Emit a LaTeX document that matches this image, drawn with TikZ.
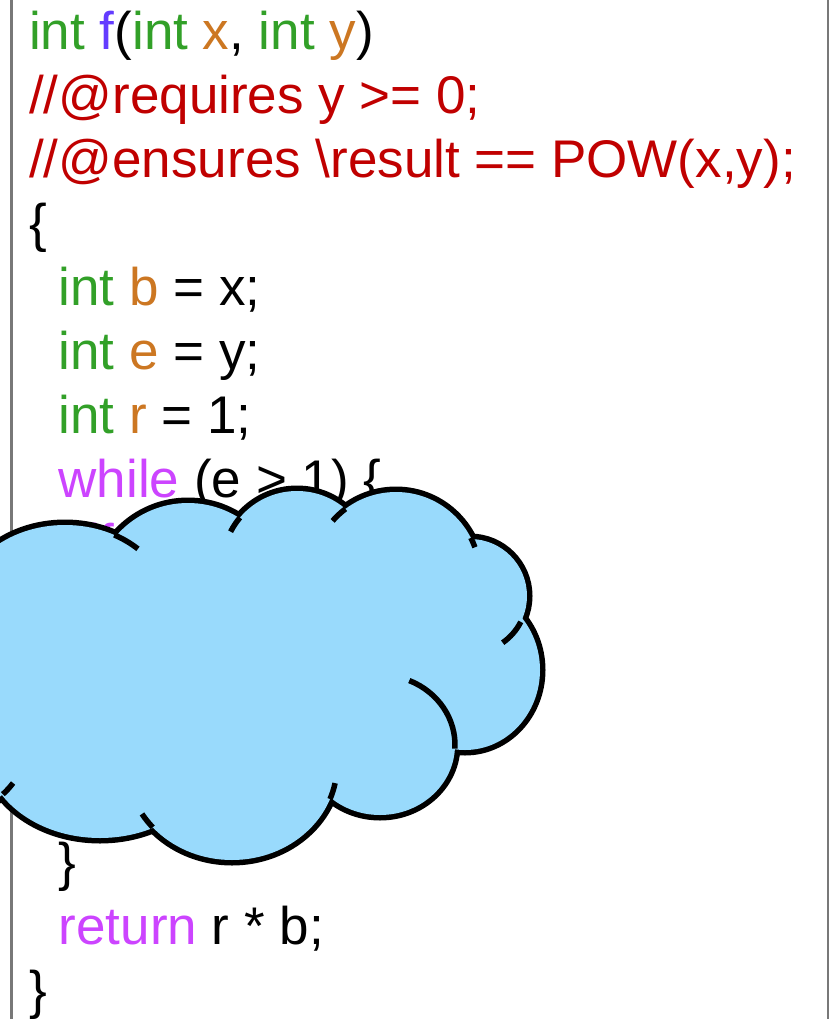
\documentclass[tikz,border=0pt]{standalone}
\usepackage{fontspec}
\setmainfont{Liberation Sans}
\usetikzlibrary{positioning}

\definecolor{typecol}{RGB}{50,160,40}
\definecolor{funcol}{RGB}{100,60,255}
\definecolor{varcol}{RGB}{204,119,34}
\definecolor{speccol}{RGB}{192,0,0}
\definecolor{keycol}{RGB}{204,68,255}
\definecolor{cloudcol}{RGB}{153,218,252}
\definecolor{framecol}{RGB}{120,120,120}

\newcommand{\ctype}[1]{\textcolor{typecol}{#1}}
\newcommand{\cfun}[1]{\textcolor{funcol}{#1}}
\newcommand{\cvar}[1]{\textcolor{varcol}{#1}}
\newcommand{\ckey}[1]{\textcolor{keycol}{#1}}

\begin{document}
\begin{tikzpicture}[x=1pt,y=1pt,node distance=63.9pt,
    code/.style={anchor=base west,inner sep=0pt,font=\fontsize{53}{64}\selectfont},
    spec/.style={code,text=speccol},
    frame/.style={draw=framecol,line width=2.5pt}]

\useasboundingbox (0,0) rectangle (830,-1019);

% code lines
\node[code] (l1) at (29,-50) {\ctype{int} \cfun{f}(\ctype{int} \cvar{x}, \ctype{int} \cvar{y})};
\node[below=of l1.base west,spec] (l2) {//@requires y >= 0;};
\node[below=of l2.base west,spec] (l3) {//@ensures \textbackslash result == POW(x,y);};
\node[below=of l3.base west,code] (l4) {\{};
\node[below=of l4.base west,code,xshift=29.5pt] (l5) {\ctype{int} \cvar{b} = x;};
\node[below=of l5.base west,code] (l6) {\ctype{int} \cvar{e} = y;};
\node[below=of l6.base west,code] (l7) {\ctype{int} \cvar{r} = 1;};
\node[below=of l7.base west,code] (l8) {\ckey{while} (e > 1) \{};
\node[below=of l8.base west,code,xshift=29.5pt] (l9) {\ckey{if}};
\node[below=383.4pt of l8.base west,code] (l13) {\}};
\node[below=of l13.base west,code] (l14) {\ckey{return} r * b;};
\node[below=of l14.base west,code,xshift=-29.5pt] (l15) {\}};

% frame sides
\draw[frame] (11.3,0) -- (11.3,-1019);
\draw[frame] (828,0) -- (828,-1019);

% cloud bumps
\coordinate (b1) at (65,-610);
\coordinate (b2) at (188,-598);
\coordinate (b3) at (297,-565.5);
\coordinate (b4) at (396,-576);
\coordinate (b5) at (470,-596);
\coordinate (b6) at (465,-670);
\coordinate (b7) at (380,-745);
\coordinate (b8) at (232,-765);
\coordinate (b9) at (100,-748);
\coordinate (b10) at (-30,-690);

\begin{scope}
\clip (0,0) rectangle (830,-1019);
% outline first, then fill over the inner half
\foreach \b/\rx/\ry in {b1/105/85,b2/95/95,b3/74.5/74.5,b4/84/84,b5/57/57,
                        b6/75/80,b7/75/70,b8/105/95,b9/115/90,b10/70/118}
  \draw[line width=11pt] (\b) ellipse [x radius=\rx, y radius=\ry];
\foreach \b/\rx/\ry in {b1/105/85,b2/95/95,b3/74.5/74.5,b4/84/84,b5/57/57,
                        b6/75/80,b7/75/70,b8/105/95,b9/115/90,b10/70/118}
  \fill[cloudcol] (\b) ellipse [x radius=\rx, y radius=\ry];
\fill[cloudcol] (-50,-560) -- (118,-560) -- (239,-545) -- (345,-536) -- (460,-560)
  -- (495,-625) -- (440,-725) -- (330,-780) -- (153,-800) -- (10,-765) -- (-50,-800) -- cycle;

% inner stubs
\foreach \b/\rx/\ry/\sa/\ea in {b1/105/85/62/46,b3/74.5/74.5/140/153,b4/84/84/127/139,
                                b4/84/84/27/20,b5/57/57/-27/-55,b7/75/70/67/-3,
                                b8/105/95/-21/-11,b8/105/95/-139/-149,b10/70/118/-62/-52}
  \draw[line width=5.5pt] (\b) ++(\sa:\rx pt and \ry pt)
    arc[start angle=\sa, end angle=\ea, x radius=\rx, y radius=\ry];
\end{scope}

\end{tikzpicture}
\end{document}
